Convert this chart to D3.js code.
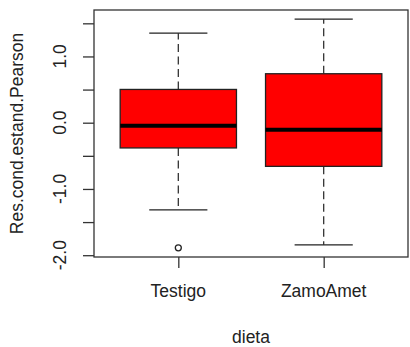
<!DOCTYPE html>
<html>
<head>
<meta charset="utf-8">
<script src="https://cdn.jsdelivr.net/npm/d3@7"></script>
<style>
  body { margin: 0; background: #fff; }
  text { font-family: "Liberation Sans", Arial, sans-serif; fill: #222; }
</style>
</head>
<body>
<div id="chart"></div>
<script>
var w = 410;
var h = 347;

// data
var categories = ["Testigo", "ZamoAmet"];
var whiskerLow = [-1.316, -1.844];
var q1 = [-0.381, -0.659];
var median = [-0.045, -0.106];
var q3 = [0.502, 0.739];
var whiskerHigh = [1.352, 1.563];
var outliers = [[-1.889], []];
var yTicks = [-2, -1.5, -1, -0.5, 0, 0.5, 1, 1.5];
var yLabels = [-2, -1, 0, 1];

var plotL = 94, plotR = 408, plotT = 10, plotB = 257;

var svg = d3.select("#chart").append("svg").attr("width", w).attr("height", h);

var allVals = whiskerLow.concat(whiskerHigh, d3.merge(outliers));
var ext = d3.extent(allVals);
var pad = (ext[1] - ext[0]) * 0.04;
var y = d3.scaleLinear().domain([ext[0] - pad, ext[1] + pad]).range([plotB, plotT]);
var x = d3.scaleLinear().domain([0.42, 2.58]).range([plotL, plotR]);

var boxW = 0.8, stapleW = 0.4;

var g = svg.selectAll("g.box")
  .data(categories)
  .enter()
  .append("g")
  .attr("class", "box");

// whiskers
g.append("line")
  .attr("x1", function (d, i) { return x(i + 1); })
  .attr("x2", function (d, i) { return x(i + 1); })
  .attr("y1", function (d, i) { return y(q3[i]); })
  .attr("y2", function (d, i) { return y(whiskerHigh[i]); })
  .attr("stroke", "#333").attr("stroke-width", 1.3).attr("stroke-dasharray", "8,4.5");
g.append("line")
  .attr("x1", function (d, i) { return x(i + 1); })
  .attr("x2", function (d, i) { return x(i + 1); })
  .attr("y1", function (d, i) { return y(q1[i]); })
  .attr("y2", function (d, i) { return y(whiskerLow[i]); })
  .attr("stroke", "#333").attr("stroke-width", 1.3).attr("stroke-dasharray", "8,4.5");

// staples
[whiskerLow, whiskerHigh].forEach(function (arr) {
  g.append("line")
    .attr("x1", function (d, i) { return x(i + 1 - stapleW / 2); })
    .attr("x2", function (d, i) { return x(i + 1 + stapleW / 2); })
    .attr("y1", function (d, i) { return y(arr[i]); })
    .attr("y2", function (d, i) { return y(arr[i]); })
    .attr("stroke", "#222").attr("stroke-width", 1.3);
});

// boxes
g.append("rect")
  .attr("x", function (d, i) { return x(i + 1 - boxW / 2); })
  .attr("width", function (d, i) { return x(i + 1 + boxW / 2) - x(i + 1 - boxW / 2); })
  .attr("y", function (d, i) { return y(q3[i]); })
  .attr("height", function (d, i) { return y(q1[i]) - y(q3[i]); })
  .attr("fill", "#ff0000")
  .attr("stroke", "#222")
  .attr("stroke-width", 1.3);

// medians
g.append("line")
  .attr("x1", function (d, i) { return x(i + 1 - boxW / 2); })
  .attr("x2", function (d, i) { return x(i + 1 + boxW / 2); })
  .attr("y1", function (d, i) { return y(median[i]); })
  .attr("y2", function (d, i) { return y(median[i]); })
  .attr("stroke", "#000").attr("stroke-width", 4);

// outliers
g.selectAll("circle")
  .data(function (d, i) { return outliers[i].map(function (v) { return { i: i, v: v }; }); })
  .enter()
  .append("circle")
  .attr("cx", function (d) { return x(d.i + 1); })
  .attr("cy", function (d) { return y(d.v); })
  .attr("r", 3)
  .attr("fill", "none")
  .attr("stroke", "#222")
  .attr("stroke-width", 1.3);

// frame
svg.append("rect")
  .attr("x", plotL).attr("y", plotT)
  .attr("width", plotR - plotL).attr("height", plotB - plotT)
  .attr("fill", "none").attr("stroke", "#333").attr("stroke-width", 1.3);

// y axis
var yAxis = d3.axisLeft(y)
  .tickValues(yTicks)
  .tickSize(11)
  .tickFormat("");
var ya = svg.append("g").attr("transform", "translate(" + plotL + ",0)").call(yAxis);
ya.select(".domain").remove();
ya.selectAll(".tick line").attr("stroke", "#333").attr("stroke-width", 1.3);

svg.selectAll("text.ylab")
  .data(yLabels)
  .enter()
  .append("text")
  .attr("class", "ylab")
  .attr("transform", function (d) { return "translate(66," + y(d) + ") rotate(-90)"; })
  .attr("text-anchor", "middle")
  .attr("font-size", "17.5px")
  .text(function (d) { return d3.format(".1f")(d).replace("−", "-"); });

// x axis
var xAxis = d3.axisBottom(x)
  .tickValues([1, 2])
  .tickSize(11)
  .tickFormat("");
var xa = svg.append("g").attr("transform", "translate(0," + plotB + ")").call(xAxis);
xa.select(".domain").remove();
xa.selectAll(".tick line").attr("stroke", "#333").attr("stroke-width", 1.3);

svg.selectAll("text.xlab")
  .data(categories)
  .enter()
  .append("text")
  .attr("class", "xlab")
  .attr("x", function (d, i) { return x(i + 1); })
  .attr("y", 297)
  .attr("text-anchor", "middle")
  .attr("font-size", "17.5px")
  .text(function (d) { return d; });

// titles
svg.append("text")
  .attr("x", (plotL + plotR) / 2)
  .attr("y", 343)
  .attr("text-anchor", "middle")
  .attr("font-size", "17.5px")
  .text("dieta");

svg.append("text")
  .attr("transform", "translate(23," + (plotT + plotB) / 2 + ") rotate(-90)")
  .attr("text-anchor", "middle")
  .attr("font-size", "17.5px")
  .text("Res.cond.estand.Pearson");
</script>
</body>
</html>
